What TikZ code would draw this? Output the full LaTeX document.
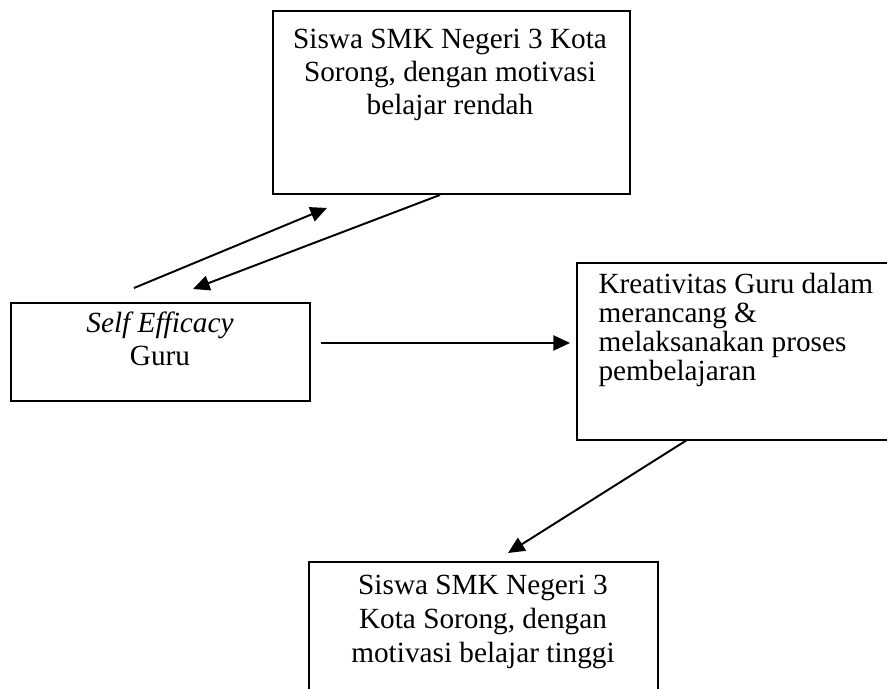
\documentclass[tikz,border=0pt]{standalone}
\usepackage{fontspec}
\setmainfont{Liberation Serif}
\usetikzlibrary{arrows.meta}
\begin{document}
\begin{tikzpicture}[x=0.41pt,y=-0.41pt,
  box/.style={draw, line width=0.8pt, inner sep=0pt, anchor=north west},
  openbox/.style={inner sep=0pt, anchor=north west},
  edge/.style={line width=0.8pt},
  txt/.style={inner sep=0pt, font=\fontsize{12pt}{13.4pt}\selectfont},
  arr/.style={line width=0.8pt, -{Triangle[length=6.8pt,width=6.2pt]}}]
\useasboundingbox (0,0) rectangle (887,688);
% boxes
\node[box, minimum width=357*0.41pt, minimum height=183*0.41pt] (top) at (272,10) {};
\node[box, minimum width=299*0.41pt, minimum height=98*0.41pt] (self) at (10,302) {};
\node[openbox, minimum width=340*0.41pt, minimum height=176*0.41pt] (krea) at (577,263) {};
\node[openbox, minimum width=348*0.41pt, minimum height=160*0.41pt] (bot) at (309,562) {};
\draw[edge] (krea.north east) -- (krea.north west) -- (krea.south west) -- (krea.south east);
\draw[edge] (bot.south west) -- (bot.north west) -- (bot.north east) -- (bot.south east);
% texts
\node[txt, align=center, anchor=north] (toptxt) at (450,29)
  {Siswa SMK Negeri 3 Kota\\Sorong, dengan motivasi\\belajar rendah};
\node[txt, align=center, anchor=north, font=\fontsize{12pt}{13.8pt}\selectfont] (selftxt) at (160,311)
  {\textit{Self Efficacy}\\Guru};
\node[txt, align=left, anchor=north west, font=\fontsize{12pt}{11.9pt}\selectfont] (kreatxt) at (598,273)
  {Kreativitas Guru dalam\\merancang \&\\melaksanakan proses\\pembelajaran};
\node[txt, align=center, anchor=north, font=\fontsize{12pt}{13.8pt}\selectfont] (bottxt) at (483,575)
  {Siswa SMK Negeri 3\\Kota Sorong, dengan\\motivasi belajar tinggi};
% arrows
\draw[arr] ([xshift=124*0.41pt,yshift=14*0.41pt]self.north west) -- ([xshift=55*0.41pt,yshift=-13*0.41pt]top.south west);
\draw[arr] ([xshift=168*0.41pt]top.south west) -- ([xshift=183*0.41pt,yshift=13*0.41pt]self.north west);
\draw[arr] ([xshift=10*0.41pt,yshift=9*0.41pt]self.east) -- ([xshift=-7*0.41pt,yshift=9*0.41pt]krea.west |- self.east);
\draw[arr] ([xshift=110*0.41pt]krea.south west) -- ([xshift=199*0.41pt,yshift=9*0.41pt]bot.north west);
\end{tikzpicture}
\end{document}
